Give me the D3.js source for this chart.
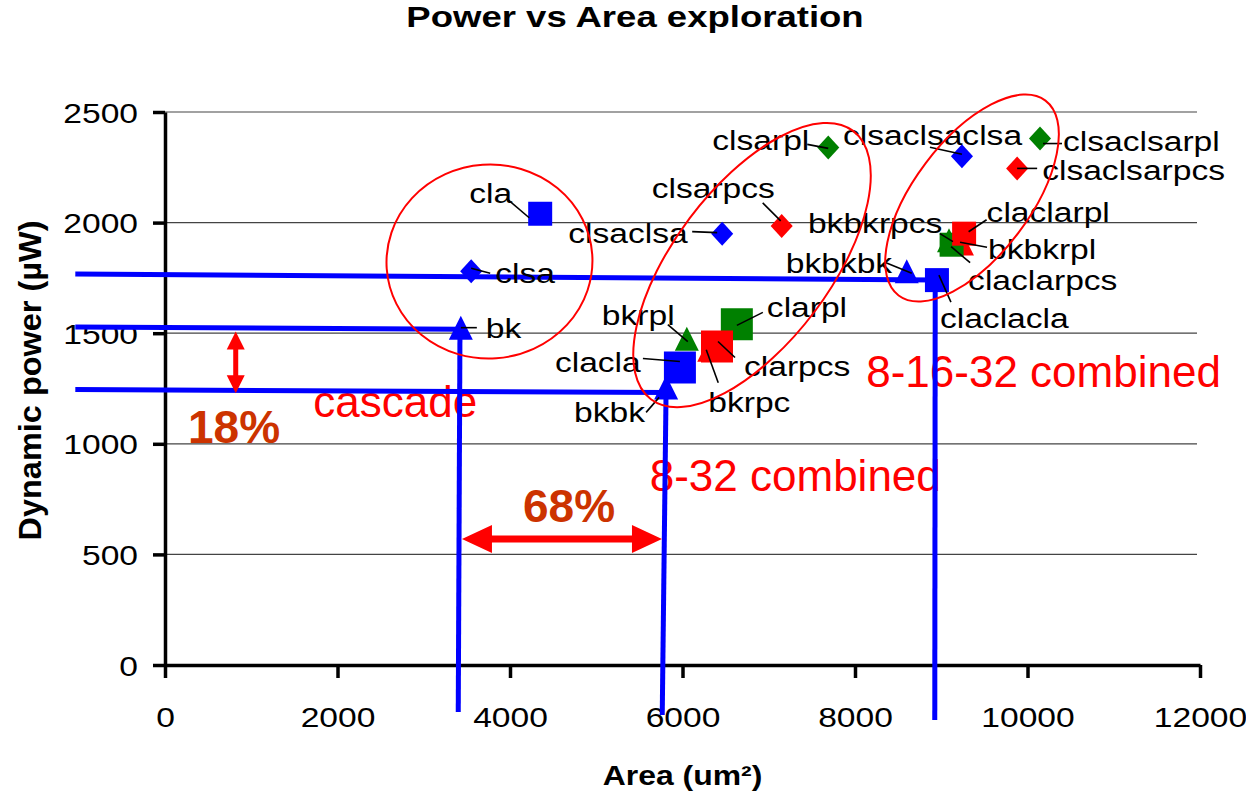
<!DOCTYPE html>
<html><head><meta charset="utf-8">
<script src="https://cdn.jsdelivr.net/npm/d3@7"></script>
<style>body{margin:0;background:#fff;} svg{display:block;}</style>
</head><body>
<svg id="chart" width="1246" height="796"></svg>
<script>
// ---------------- DATA ----------------
const pointNames = ["bk","bkbk","bkbkbk","bkrpc","bkbkrpcs","bkrpl","bkbkrpl",
  "cla","clacla","claclacla","clarpcs","claclarpcs","clarpl","claclarpl",
  "clsa","clsaclsa","clsaclsaclsa","clsarpcs","clsaclsarpcs","clsarpl","clsaclsarpl"];
const areaValues  = [3430,5810,8600,6310,9240,6050,9090, 4350,5970,8950,6400,9265,6630,9120, 3550,6460,9240,7150,9880,7690,10145];
const powerValues = [1525,1255,1780,1425,1905,1475,1920, 2040,1345,1740,1440,1950,1540,1900, 1780,1950,2300,1985,2245,2340,2380];
const xTicks = [0,2000,4000,6000,8000,10000,12000];
const yTicks = [0,500,1000,1500,2000,2500];
const chartTitle = "Power vs Area exploration";
const xTitle = "Area (um²)";
const yTitle = "Dynamic power (µW)";

// ---------------- LAYOUT / STYLE ----------------
const colors = {base:"#0000FF", rpcs:"#FF0000", rpl:"#008000"};
const bigMarkers = new Set(["clacla","clarpl","clarpcs"]);
// label offsets relative to marker: [textDx, textDy, leaderX1, leaderY1, leaderX2, leaderY2]
const labelLayout = {
  cla:[-71,-11,-32,-14,-11,4], clsa:[24,12,0,-3,19,2], bk:[25,10,0,0,16,0],
  clsaclsa:[-154,9,-30,-2,-5,-1], bkbk:[-92,35,-20,25,-7,10], clacla:[-125,5,-37,-9,0,-6],
  bkbkbk:[-121,2,-22,-9,5,2], claclacla:[3,48,2,-5,14,22], clsaclsaclsa:[-119,-11,-32,-9,0,-2],
  clsarpcs:[-130,-28,-19,-23,-1,-5], clarpcs:[27,30,1,-5,18,11], bkrpc:[-1,62,-3,0,9,33],
  claclarpcs:[4,56,-13,13,6,29], bkbkrpcs:[-154,-11,-22,-10,-9,-2], clsaclsarpcs:[25,12,0,0,20,0],
  clsarpl:[-116,3,-21,-3,0,1], bkrpl:[-85,-14,-19,-14,1,3], clarpl:[30,-7,0,1,26,-12],
  claclarpl:[35,-23,17,-13,35,-25], bkbkrpl:[39,19,11,2,38,7], clsaclsarpl:[23,12,3,5,22,5]
};

const svg = d3.select("#chart");
const x = d3.scaleLinear().domain([0,12000]).range([165,1200]);
const y = d3.scaleLinear().domain([0,2500]).range([665,112]);
const FONT = "'Liberation Sans', Arial, Helvetica, sans-serif";

function sText(g, px, py, str, o){
  return g.append("text")
    .attr("transform", `translate(${px},${py}) scale(${o.sx||1},${o.sy||1})`)
    .attr("text-anchor", o.anchor||"start")
    .attr("font-family", FONT)
    .attr("font-size", o.size||28)
    .attr("font-weight", o.weight||"normal")
    .attr("fill", o.fill||"#000")
    .text(str);
}

// gridlines
svg.append("g").selectAll("line").data(yTicks.filter(d=>d>0)).join("line")
  .attr("x1", x(0)).attr("x2", x.range()[1]-3)
  .attr("y1", d=>y(d)).attr("y2", d=>y(d))
  .attr("stroke","#444").attr("stroke-width",1.2);

// axes
const xAxis = svg.append("g").attr("transform",`translate(0,${y(0)})`)
  .call(d3.axisBottom(x).tickValues(xTicks).tickSize(13).tickSizeOuter(0).tickFormat(d=>String(d)));
const yAxis = svg.append("g").attr("transform",`translate(${x(0)},0)`)
  .call(d3.axisLeft(y).tickValues(yTicks).tickSize(12).tickSizeOuter(0).tickFormat(d=>String(d)));
[xAxis,yAxis].forEach(a=>{
  a.select(".domain").attr("stroke","#000").attr("stroke-width",3.5);
  a.selectAll(".tick line").attr("stroke","#000").attr("stroke-width",3.5);
  a.selectAll(".tick text").attr("font-family",FONT).attr("font-size",28).attr("fill","#000");
});
xAxis.selectAll(".tick text").attr("y",null).attr("dy",null)
  .attr("transform","translate(0,62) scale(1.2,1)");
yAxis.selectAll(".tick text").attr("x",null).attr("dy",null)
  .attr("transform","translate(-27,10) scale(1.2,1)");

// titles
sText(svg, 635, 27, chartTitle, {size:29, weight:"bold", anchor:"middle", sx:1.26});
sText(svg, (x.range()[0]+x.range()[1])/2, 785, xTitle, {size:28, weight:"bold", anchor:"middle", sx:1.14});
svg.append("text")
  .attr("transform", `translate(41,${(y.range()[0]+y.range()[1])/2 - 8}) rotate(-90) scale(1.16,1.15)`)
  .attr("text-anchor","middle").attr("font-family",FONT).attr("font-size",28)
  .attr("font-weight","bold").text(yTitle);

// points
const pts = pointNames.map((n,i)=>{
  const shape = n.startsWith("clsa") ? "diamond" : n.startsWith("cla") ? "square" : "triangle";
  const variant = /rpcs?$/.test(n) ? "rpcs" : /rpl$/.test(n) ? "rpl" : "base";
  return {name:n, area:areaValues[i], power:powerValues[i], shape, variant};
});
const shapeOrder = {triangle:0, square:1, diamond:2};
const colorOrder = {rpl:0, rpcs:1, base:2};
const drawPts = pts.slice().sort((a,b)=>shapeOrder[a.shape]-shapeOrder[b.shape] || colorOrder[a.variant]-colorOrder[b.variant]);

function markerPath(shape, s){
  const h = s/2;
  if(shape==="square") return `M${-h},${-h}H${h}V${h}H${-h}Z`;
  if(shape==="diamond"){ const w = h*0.92; return `M0,${-h}L${w},0L0,${h}L${-w},0Z`; }
  return `M0,${-h}L${h},${h}L${-h},${h}Z`;
}

// annotation captions
const annoText = svg.append("g");
[["cascade",1720,1120],["8-32 combined",5620,788],["8-16-32 combined",8130,1257]].forEach(([t,a,p])=>{
  sText(annoText, x(a), y(p), t, {size:44, fill:"#FF0000"});
});

svg.append("g").selectAll("path").data(drawPts).join("path")
  .attr("transform", d=>`translate(${x(d.area)},${y(d.power)})`)
  .attr("d", d=>markerPath(d.shape, bigMarkers.has(d.name)?32:24))
  .attr("fill", d=>colors[d.variant]);

// blue guide lines (reference to bk, bkbk, claclacla)
const guides = [
  [-1040,1768, 8940,1740],
  [-1040,1528, 3430,1518],
  [-1040,1245, 5810,1232],
  [3420,1525, 3400,-212],
  [5810,1255, 5765,-226],
  [8930,1740, 8925,-249]
];
svg.append("g").selectAll("line").data(guides).join("line")
  .attr("x1",d=>x(d[0])).attr("y1",d=>y(d[1])).attr("x2",d=>x(d[2])).attr("y2",d=>y(d[3]))
  .attr("stroke","#0000FF").attr("stroke-width",5);

// labels + leaders
const lab = svg.append("g");
pts.forEach(p=>{
  const L = labelLayout[p.name]; if(!L) return;
  const px = x(p.area), py = y(p.power);
  lab.append("line").attr("x1",px+L[2]).attr("y1",py+L[3]).attr("x2",px+L[4]).attr("y2",py+L[5])
    .attr("stroke","#000").attr("stroke-width",1.6);
  sText(lab, px+L[0], py+L[1], p.name, {size:28, sx:1.2});
});

// red ellipses
const ellipses = [
  {area:3762, power:1824, rx:103, ry:97, rot:-4},
  {area:6806, power:1808, rx:168, ry:78, rot:-53},
  {area:9357, power:2111, rx:122, ry:58, rot:-53}
];
svg.append("g").selectAll("ellipse").data(ellipses).join("ellipse")
  .attr("transform", d=>`translate(${x(d.area)},${y(d.power)}) rotate(${d.rot})`)
  .attr("rx",d=>d.rx).attr("ry",d=>d.ry)
  .attr("fill","none").attr("stroke","#FF0000").attr("stroke-width",2);

// double arrows
function dblArrow(x1,y1,x2,y2,head,half,shaft){
  const len = Math.hypot(x2-x1,y2-y1), ang = Math.atan2(y2-y1,x2-x1)*180/Math.PI;
  const s = shaft/2;
  const d = `M0,0L${head},${-half}L${head},${-s}L${len-head},${-s}L${len-head},${-half}L${len},0L${len-head},${half}L${len-head},${s}L${head},${s}L${head},${half}Z`;
  svg.append("path").attr("transform",`translate(${x1},${y1}) rotate(${ang})`).attr("d",d).attr("fill","#FF0000");
}
dblArrow(x(820), y(1508), x(820), y(1228), 18, 9, 5);
dblArrow(x(3443), y(570), x(5762), y(570), 30, 14, 7);

sText(svg, x(267), y(1004), "18%", {size:46, weight:"bold", fill:"#CC3300"});
sText(svg, x(4684), y(647), "68%", {size:46, weight:"bold", fill:"#CC3300", anchor:"middle"});
</script>
</body></html>
